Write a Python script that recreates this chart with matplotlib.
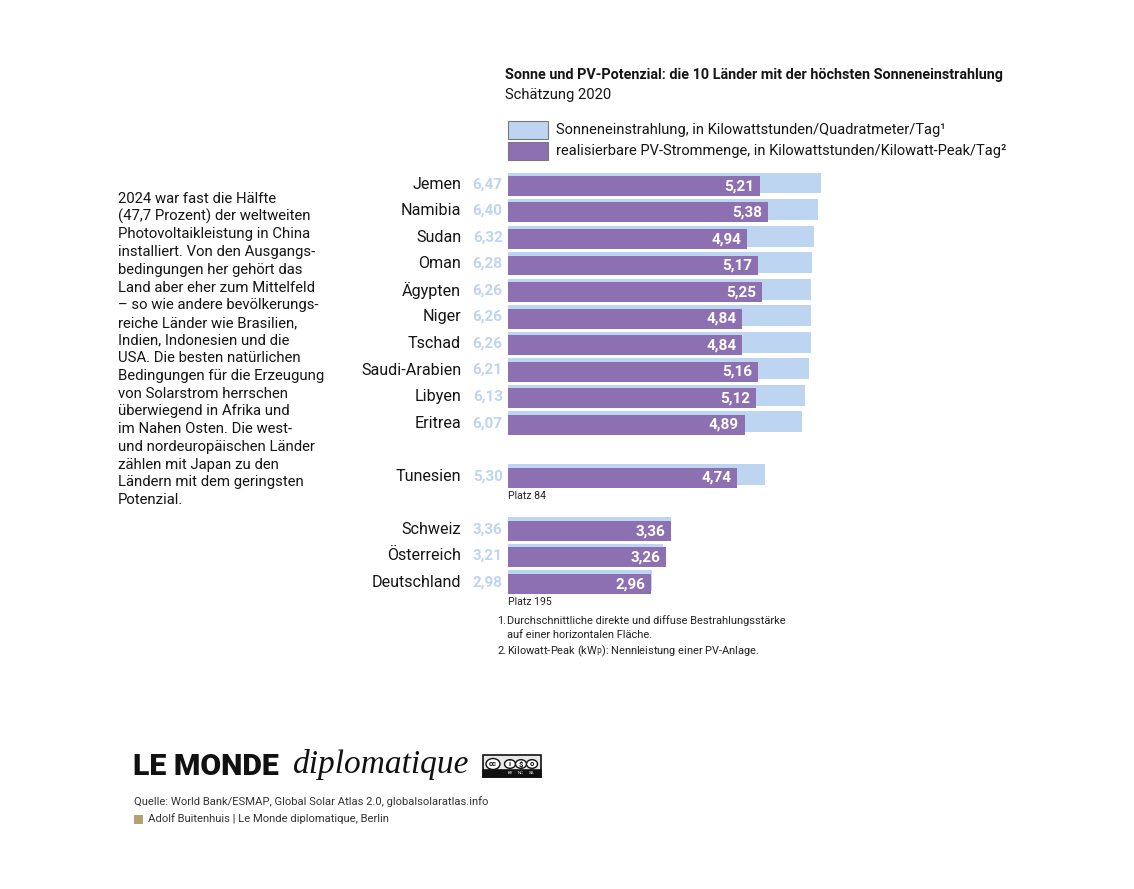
import matplotlib.pyplot as plt
from matplotlib.patches import Rectangle, Circle

plt.rcParams['font.family'] = ['Roboto', 'DejaVu Sans']

# data
countries = ["Jemen", "Namibia", "Sudan", "Oman", "Ägypten", "Niger", "Tschad",
             "Saudi-Arabien", "Libyen", "Eritrea", "Tunesien", "Schweiz",
             "Österreich", "Deutschland"]
irradiation = [6.47, 6.40, 6.32, 6.28, 6.26, 6.26, 6.26, 6.21, 6.13, 6.07,
               5.30, 3.36, 3.21, 2.98]
pv_output = [5.21, 5.38, 4.94, 5.17, 5.25, 4.84, 4.84, 5.16, 5.12, 4.89,
             4.74, 3.36, 3.26, 2.96]
rank_notes = {"Tunesien": "Platz 84", "Deutschland": "Platz 195"}

LIGHT = "#bdd5f0"
PURPLE = "#8d70b1"
INK = "#151515"
W, H = 1134, 889


def fx(x):
    return x / W


def fy(y):
    return 1 - y / H


def fmt(v):
    return f"{v:.2f}".replace(".", ",")


# rows: top ten, gap, Tunesien, gap, the three DACH countries
ypos = []
row = 0
for c in countries:
    if c in ("Tunesien", "Schweiz"):
        row += 1
    ypos.append(row)
    row += 1

fig = plt.figure(figsize=(W / 100, H / 100), dpi=100)

# axes placed so that x=0 sits at px 508, 1 unit = 48.4 px, row 0 at y=183 px
unit = 48.4
step = 26.53
x0, y0 = 508, 183
ax = fig.add_axes([fx(x0), fy(y0 + 16 * step), 7 * unit / W, 17 * step / H])
ax.set_xlim(0, 7)
ax.set_ylim(16, -1)
ax.axis('off')

ax.barh(ypos, irradiation, height=0.79, color=LIGHT, zorder=1)
ax.barh([y + 0.11 for y in ypos], pv_output, height=0.75, color=PURPLE, zorder=2)

for c, y, ir, pv in zip(countries, ypos, irradiation, pv_output):
    ax.text(-0.97, y + 0.05, c, ha='right', va='center', fontsize=11.6,
            color=INK, clip_on=False)
    ax.text(-0.11, y + 0.05, fmt(ir), ha='right', va='center', fontsize=11,
            fontweight='bold', color=LIGHT, clip_on=False)
    ax.text(pv - 0.12, y + 0.12, fmt(pv), ha='right', va='center', fontsize=11,
            fontweight='bold', color='white', zorder=3)
    if c in rank_notes:
        ax.text(0, y + 0.8, rank_notes[c], ha='left', va='center', fontsize=7.6,
                color='#222222')

# title block
fig.text(fx(505), fy(75), "Sonne und PV-Potenzial: die 10 Länder mit der höchsten Sonneneinstrahlung",
         ha='left', va='center', fontsize=10.4, fontweight='bold', color=INK)
fig.text(fx(505), fy(95), "Schätzung 2020", ha='left', va='center', fontsize=10.6,
         color=INK)

# legend
leg = [(LIGHT, "Sonneneinstrahlung, in Kilowattstunden/Quadratmeter/Tag¹", 130),
       (PURPLE, "realisierbare PV-Strommenge, in Kilowattstunden/Kilowatt-Peak/Tag²", 151)]
for col, label, yc in leg:
    fig.add_artist(Rectangle((fx(508), fy(yc + 9)), 40 / W, 18 / H,
                             transform=fig.transFigure, facecolor=col,
                             edgecolor='#7a7a7a', linewidth=0.8))
    fig.text(fx(556), fy(yc), label, ha='left', va='center', fontsize=10.55,
             color=INK)

# side paragraph
para = ["2024 war fast die Hälfte",
        "(47,7 Prozent) der weltweiten",
        "Photovoltaikleistung in China",
        "installiert. Von den Ausgangs-",
        "bedingungen her gehört das",
        "Land aber eher zum Mittelfeld",
        "– so wie andere bevölkerungs-",
        "reiche Länder wie Brasilien,",
        "Indien, Indonesien und die",
        "USA. Die besten natürlichen",
        "Bedingungen für die Erzeugung",
        "von Solarstrom herrschen",
        "überwiegend in Afrika und",
        "im Nahen Osten. Die west-",
        "und nordeuropäischen Länder",
        "zählen mit Japan zu den",
        "Ländern mit dem geringsten",
        "Potenzial."]
for i, line in enumerate(para):
    fig.text(fx(118), fy(199 + i * 17.7), line, ha='left', va='center',
             fontsize=10.7, color=INK)

# footnotes
notes = [("1.", "Durchschnittliche direkte und diffuse Bestrahlungsstärke", 621),
         ("", "auf einer horizontalen Fläche.", 635),
         ("2.", "Kilowatt-Peak (kW$_\\mathrm{P}$): Nennleistung einer PV-Anlage.", 651)]
for num, txt, yc in notes:
    if num:
        fig.text(fx(497), fy(yc), num, ha='left', va='center', fontsize=7.9, color='#222222')
    fig.text(fx(507), fy(yc), txt, ha='left', va='center', fontsize=7.9, color='#222222')

# logo
fig.text(fx(133), fy(767), "LE MONDE", ha='left', va='center', fontsize=21.8,
         fontweight='heavy', color='#111111')
fig.text(fx(293), fy(765), "diplomatique", ha='left', va='center', fontsize=24,
         style='italic', family=['Liberation Serif'], color='#111111')

# cc badge
fig.add_artist(Rectangle((fx(483), fy(777)), 58 / W, 22 / H, transform=fig.transFigure,
                         facecolor='#e8e8e8', edgecolor='#111111', linewidth=1.2))
fig.add_artist(Rectangle((fx(483), fy(777)), 58 / W, 7 / H, transform=fig.transFigure,
                         facecolor='#111111', edgecolor='#111111', linewidth=1.2))
badge = [("cc", 493, 7), ("i", 510, 5.5), ("\\$", 521, 5.5), ("o", 532, 5.5)]
for sym, cx, r in badge:
    fig.add_artist(Circle((fx(cx), fy(764)), r / W, transform=fig.transFigure,
                          facecolor='white', edgecolor='#111111', linewidth=1.0))
    fig.text(fx(cx), fy(764), sym, ha='center', va='center', fontsize=5.5,
             fontweight='bold', color='#111111')
for lab, cx in [("BY", 510), ("NC", 521), ("SA", 532)]:
    fig.text(fx(cx), fy(773.5), lab, ha='center', va='center', fontsize=3.2,
             color='white')

# source
fig.text(fx(134), fy(802), "Quelle: World Bank/ESMAP, Global Solar Atlas 2.0, globalsolaratlas.info",
         ha='left', va='center', fontsize=8.1, color='#333333')
fig.add_artist(Rectangle((fx(134), fy(824)), 9 / W, 9 / H, transform=fig.transFigure,
                         facecolor='#b5a074', edgecolor='none'))
fig.text(fx(148), fy(819), "Adolf Buitenhuis | Le Monde diplomatique, Berlin",
         ha='left', va='center', fontsize=8.1, color='#333333')

fig.savefig("out.png", dpi=100, facecolor='white')
